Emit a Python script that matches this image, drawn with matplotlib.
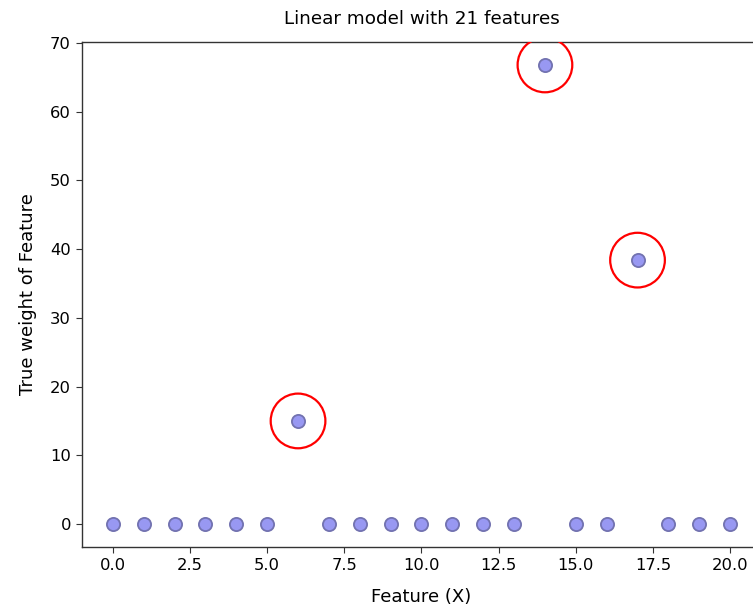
import numpy as np
import matplotlib.pyplot as plt

# true weights of the 21 features, only three of them non-zero
features = np.arange(21)
weights = [0, 0, 0, 0, 0, 0, 15.0, 0, 0, 0, 0, 0, 0, 0, 66.8, 0, 0, 38.4, 0, 0, 0]
highlight_x = [6, 14, 17]
highlight_y = [15.0, 66.8, 38.4]

plt.rcParams['font.size'] = 11.8
plt.rcParams['axes.edgecolor'] = '#333333'
plt.rcParams['axes.linewidth'] = 1.0

fig = plt.figure(figsize=(7.53, 6.06), dpi=100)
ax = fig.add_axes([0.1089, 0.0974, 0.9017, 0.8333])

ax.scatter(features, weights, s=90, c='#9898f2', edgecolors='#7272b0', linewidths=1.3, zorder=3)
# circle the features that matter
ax.scatter(highlight_x, highlight_y, s=1550, facecolors='none', edgecolors='red', linewidths=1.6, zorder=4)

ax.set_xlim(-1, 21)
ax.set_ylim(-3.34, 70.14)
ax.set_xticks(np.arange(0, 20.1, 2.5))
ax.tick_params(length=4.5, color='#333333')
ax.set_title('Linear model with 21 features', fontsize=13.2, pad=13)
ax.set_xlabel('Feature (X)', fontsize=13, labelpad=11)
ax.set_ylabel('True weight of Feature', fontsize=13, labelpad=9)

fig.savefig('out.png', dpi=100)
